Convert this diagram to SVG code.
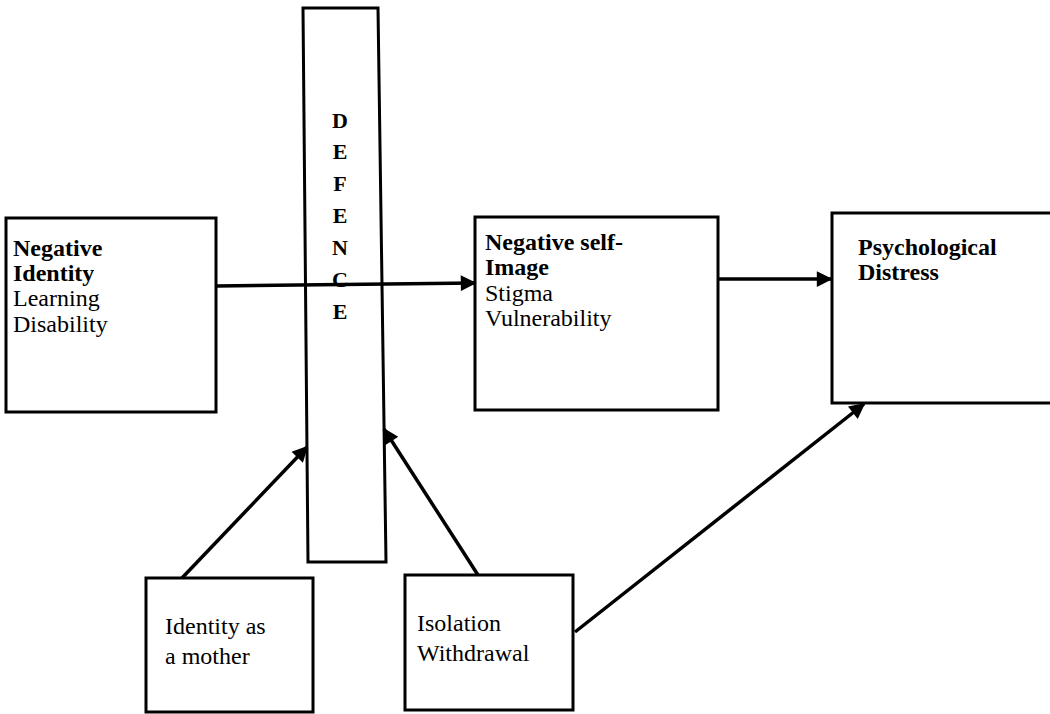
<svg xmlns="http://www.w3.org/2000/svg" width="1050" height="714" viewBox="0 0 1050 714">
<style>
.box{fill:#fff;stroke:#000;stroke-width:3}
.b{font-family:"Liberation Serif",serif;font-weight:bold;font-size:24px;fill:#000}
.r{font-family:"Liberation Serif",serif;font-size:24px;fill:#000}
.d{font-family:"Liberation Serif",serif;font-weight:bold;font-size:22px;fill:#000;text-anchor:middle}
.c{stroke:#000;stroke-width:3.5;fill:none;marker-end:url(#ah)}
</style>
<defs>
<marker id="ah" viewBox="0 0 10 10" refX="9" refY="5" markerWidth="5" markerHeight="4.5" orient="auto" markerUnits="strokeWidth">
<path d="M0,0 L10,5 L0,10 z" fill="#000"/>
</marker>
</defs>
<rect width="1050" height="714" fill="#fff"/>
<g id="negative-identity">
<rect class="box" x="6" y="218" width="210" height="194"/>
<text class="b" x="13" y="256">Negative</text>
<text class="b" x="13" y="281">Identity</text>
<text class="r" x="13" y="306">Learning</text>
<text class="r" x="13" y="332">Disability</text>
</g>
<g id="defence">
<polygon class="box" points="303,8 378,8 386,562 308,562"/>
<text class="d" x="340" y="128">D</text>
<text class="d" x="340" y="159">E</text>
<text class="d" x="340" y="191">F</text>
<text class="d" x="340" y="223">E</text>
<text class="d" x="340" y="255">N</text>
<text class="d" x="340" y="287">C</text>
<text class="d" x="340" y="319">E</text>
</g>
<g id="negative-self-image">
<rect class="box" x="475" y="217" width="243" height="193"/>
<text class="b" x="485" y="250">Negative self-</text>
<text class="b" x="485" y="275">Image</text>
<text class="r" x="485" y="301">Stigma</text>
<text class="r" x="485" y="326">Vulnerability</text>
</g>
<g id="psychological-distress">
<rect class="box" x="832" y="213" width="240" height="190"/>
<text class="b" x="858" y="255">Psychological</text>
<text class="b" x="858" y="280">Distress</text>
</g>
<g id="identity-mother">
<rect class="box" x="146" y="578" width="167" height="134"/>
<text class="r" x="165" y="634">Identity as</text>
<text class="r" x="165" y="664">a mother</text>
</g>
<g id="isolation">
<rect class="box" x="405" y="575" width="168" height="135"/>
<text class="r" x="417" y="631">Isolation</text>
<text class="r" x="417" y="661">Withdrawal</text>
</g>
<g id="connectors">
<line class="c" x1="216" y1="286" x2="475" y2="283"/>
<line class="c" x1="718" y1="279" x2="831" y2="279"/>
<line class="c" x1="575" y1="632" x2="864" y2="404"/>
<line class="c" x1="182" y1="578" x2="307" y2="447"/>
<line class="c" x1="478" y1="575" x2="384" y2="429"/>
</g>
</svg>
